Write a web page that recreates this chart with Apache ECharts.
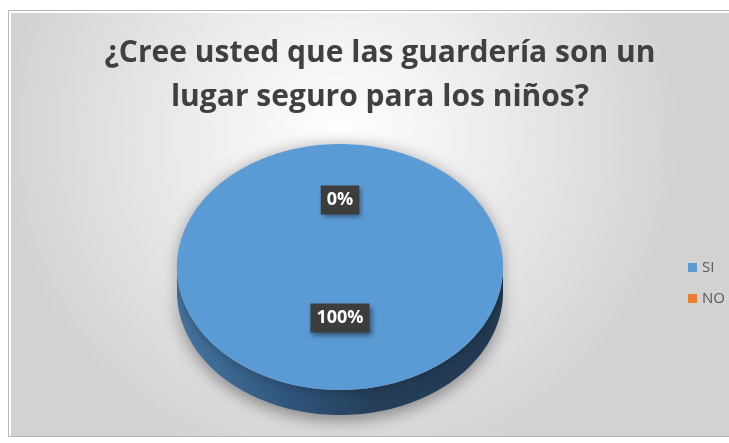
<!DOCTYPE html>
<html>
<head>
<meta charset="utf-8">
<script src="https://cdn.jsdelivr.net/npm/echarts@6/dist/echarts.min.js"></script>
<style>
html,body{margin:0;padding:0;background:#fff;}
#main{width:729px;height:443px;}
</style>
</head>
<body>
<div id="main"></div>
<script>
const categories = ['SI', 'NO'];
const values = [100, 0];
const sliceColors = ['#5b9bd5', '#ed7d31'];
const titleLines = ['¿Cree usted que las guardería son un', 'lugar seguro para los niños?'];

const total = values.reduce((a, b) => a + b, 0);
const starts = [];
let acc = 0;
values.forEach(v => { starts.push(acc); acc += v; });

// pie geometry (layout)
const CX = 340, CY = 267, RX = 163, RY = 123, DEPTH = 25;
const TAU = Math.PI * 2;

function pt(theta, dy) {
  return [CX + RX * Math.sin(theta), CY - RY * Math.cos(theta) + (dy || 0)];
}

function renderSlice(params, api) {
  const i = params.seriesIndex;
  const v = values[i];
  const s = starts[i] / total * TAU;
  const e = (starts[i] + v) / total * TAU;
  const children = [];
  const steps = 120;
  const a = Math.max(s, Math.PI / 2), b = Math.min(e, Math.PI * 1.5);
  if (b > a) {
    const pts = [];
    for (let k = 0; k <= steps; k++) pts.push(pt(a + (b - a) * k / steps, 0));
    for (let k = steps; k >= 0; k--) pts.push(pt(a + (b - a) * k / steps, DEPTH));
    children.push({
      type: 'polygon',
      shape: { points: pts },
      style: {
        fill: new echarts.graphic.LinearGradient(0, 0, 1, 0, [
          { offset: 0, color: '#4676a3' },
          { offset: 0.35, color: '#2f557b' },
          { offset: 0.6, color: '#253f59' },
          { offset: 1, color: '#223a52' }
        ]),
        shadowBlur: 16, shadowColor: 'rgba(0,0,0,0.4)', shadowOffsetY: 5
      }
    });
  }
  if (e > s) {
    const pts = [];
    const full = (e - s) >= TAU - 1e-9;
    if (!full) pts.push([CX, CY]);
    for (let k = 0; k <= steps * 2; k++) pts.push(pt(s + (e - s) * k / (steps * 2), 0));
    children.push({
      type: 'polygon',
      shape: { points: pts },
      style: {
        fill: sliceColors[i],
        shadowBlur: 14, shadowColor: 'rgba(0,0,0,0.3)'
      }
    });
  }
  const mid = (s + e) / 2;
  const lp = [CX + 0.48 * RX * Math.sin(mid), CY - 0.48 * RY * Math.cos(mid) - 8];
  children.push({
    type: 'text',
    x: lp[0], y: lp[1],
    z2: 100,
    style: {
      text: Math.round(v / total * 100) + '%',
      fill: '#ffffff',
      fontSize: 18,
      fontWeight: 'bold',
      fontFamily: 'Open Sans',
      align: 'center',
      verticalAlign: 'middle',
      backgroundColor: '#3d3d3d',
      padding: [6, 6, 5, 6],
      shadowBlur: 5,
      shadowColor: 'rgba(0,0,0,0.45)',
      shadowOffsetX: 2,
      shadowOffsetY: 3
    }
  });
  return { type: 'group', children };
}

const chart = echarts.init(document.getElementById('main'));
chart.setOption({
  animation: false,
  graphic: [{
    type: 'rect',
    z: -10,
    shape: { x: 8.5, y: 10.5, width: 740, height: 426 },
    style: {
      fill: new echarts.graphic.RadialGradient(0.45, 0.3, 0.8, [
        { offset: 0, color: '#ffffff' },
        { offset: 0.4, color: '#eeeeee' },
        { offset: 1, color: '#d2d2d2' }
      ]),
      stroke: '#b8b8b8',
      lineWidth: 1
    }
  }, {
    type: 'polyline',
    z: -9,
    shape: { points: [[10, 436], [10, 12], [740, 12]] },
    style: { stroke: '#ffffff', lineWidth: 2, fill: null }
  }],
  title: {
    text: titleLines.join('\n'),
    left: 375,
    textAlign: 'center',
    top: 26,
    textStyle: {
      fontFamily: 'Open Sans',
      fontWeight: 'bold',
      fontSize: 30,
      lineHeight: 44,
      color: '#404040'
    }
  },
  legend: {
    data: categories,
    orient: 'vertical',
    left: 683,
    top: 255,
    itemWidth: 9,
    itemHeight: 9,
    itemGap: 16,
    icon: 'rect',
    textStyle: { color: '#595959', fontSize: 15, fontFamily: 'Open Sans' }
  },
  series: categories.map((c, i) => ({
    type: 'custom',
    name: c,
    coordinateSystem: 'none',
    itemStyle: { color: sliceColors[i] },
    data: [[i]],
    renderItem: renderSlice
  }))
});
</script>
</body>
</html>
